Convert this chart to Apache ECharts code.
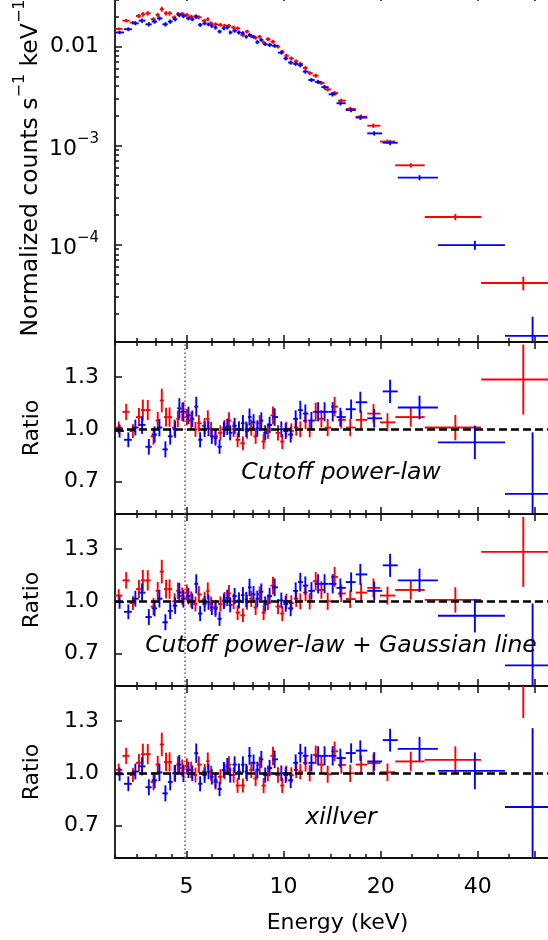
<!DOCTYPE html>
<html><head><meta charset="utf-8">
<script src="https://cdn.jsdelivr.net/npm/echarts@6/dist/echarts.min.js"></script>
<style>html,body{margin:0;padding:0;background:#fff}#c{width:548px;height:940px}</style>
</head><body><div id="c"></div><script>
// ---------------- data ----------------
const redEnergy = [3.08,3.25,3.41,3.56,3.66,3.79,3.95,4.07,4.19,4.32,4.43,4.59,4.70,4.85,5.01,5.17,5.33,5.46,5.69,5.82,5.96,6.15,6.37,6.56,6.77,7.00,7.20,7.48,7.70,7.94,8.19,8.43,8.67,8.94,9.27,9.61,9.91,10.2,10.57,10.95,11.27,11.7,12.05,12.58,13.1,13.7,14.4,15.1,16.1,17.4,19.0,21.0,24.8,34.1,55.4];
const redCounts = [0.0151,0.0183,0.0175,0.0204,0.0212,0.0217,0.0189,0.0209,0.0239,0.0217,0.0217,0.0198,0.0214,0.0214,0.0209,0.0201,0.0201,0.0198,0.0183,0.0189,0.0172,0.0168,0.0166,0.0163,0.0162,0.0156,0.0153,0.0131,0.0142,0.0128,0.0123,0.0126,0.0110,0.0119,0.0112,0.0100,0.0089,0.0081,0.0076,0.0071,0.0067,0.0061,0.0054,0.0051,0.0043,0.0037,0.0034,0.00285,0.00235,0.00196,0.00159,0.00110,0.000633,0.00019,0.000041];
const redRelErr = [0.035,0.042,0.040,0.048,0.054,0.052,0.050,0.048,0.058,0.050,0.052,0.046,0.045,0.048,0.044,0.046,0.043,0.045,0.044,0.046,0.043,0.045,0.044,0.043,0.046,0.044,0.045,0.043,0.044,0.046,0.045,0.044,0.046,0.045,0.047,0.045,0.046,0.044,0.045,0.046,0.045,0.047,0.046,0.048,0.047,0.049,0.050,0.048,0.050,0.050,0.050,0.050,0.052,0.072,0.156];
const redRatioCutoff = [1.01,1.10,0.99,1.07,1.11,1.11,0.96,1.05,1.165,1.07,1.07,1.01,1.06,1.10,1.07,1.05,1.00,1.035,1.02,1.06,1.00,0.96,0.98,1.01,1.05,1.00,0.94,0.92,0.99,1.01,0.96,1.035,0.93,0.99,1.08,0.98,0.93,1.00,0.99,1.01,1.00,1.05,1.00,1.10,1.06,1.01,1.13,1.054,1.01,1.054,1.09,1.04,1.07,1.01,1.285];
const redRatioGauss = [1.033,1.12,0.99,1.07,1.12,1.12,0.97,1.06,1.17,1.07,1.07,1.00,1.06,1.03,1.05,1.01,0.985,1.04,1.01,1.06,0.985,0.965,0.985,1.01,1.045,1.00,0.935,0.92,0.995,1.015,0.965,1.04,0.935,0.995,1.09,0.97,0.93,1.00,0.99,1.015,1.00,1.05,1.00,1.115,1.065,1.00,1.14,1.045,1.013,1.05,1.077,1.033,1.065,1.008,1.283];
const redRatioXillver = [1.02,1.10,0.99,1.06,1.11,1.11,0.95,1.05,1.165,1.065,1.065,1.00,1.05,1.03,1.04,1.02,0.99,1.05,1.01,1.07,1.00,0.95,0.98,1.01,1.05,0.99,0.93,0.93,1.00,1.02,0.97,1.05,0.93,1.00,1.10,0.99,0.93,1.00,0.99,1.02,1.01,1.06,1.00,1.106,1.05,0.995,1.126,1.048,1.00,1.05,1.058,1.006,1.068,1.077,1.56];
const redWideBinLo = [19.9,22.2,27.4,41.0];
const redWideBinHi = [22.2,27.4,41.0,75.0];

const blueEnergy = [3.10,3.30,3.47,3.64,3.82,3.98,4.12,4.30,4.45,4.61,4.75,4.89,5.07,5.21,5.36,5.51,5.69,5.85,5.99,6.15,6.33,6.53,6.69,6.83,7.05,7.27,7.48,7.66,7.84,8.07,8.29,8.53,8.77,9.05,9.38,9.84,10.15,10.52,10.9,11.27,11.68,12.2,12.8,13.4,14.2,15.0,16.2,17.3,19.1,21.4,26.4,39.2,59.2];
const blueCounts = [0.0139,0.0150,0.0172,0.0183,0.0168,0.0179,0.0193,0.0168,0.0179,0.0189,0.0209,0.0204,0.0193,0.0189,0.0201,0.0166,0.0172,0.0168,0.0162,0.0156,0.0142,0.0153,0.0156,0.0139,0.0145,0.0139,0.0137,0.0126,0.0131,0.0126,0.0111,0.0117,0.0106,0.0104,0.0102,0.0087,0.0076,0.0069,0.0067,0.0065,0.0056,0.0046,0.0044,0.0039,0.0033,0.00268,0.00229,0.00192,0.00133,0.00107,0.000475,0.000099,0.000012];
const blueRelErr = [0.038,0.045,0.045,0.050,0.050,0.048,0.050,0.052,0.050,0.048,0.052,0.050,0.046,0.045,0.050,0.046,0.045,0.044,0.045,0.046,0.045,0.044,0.046,0.044,0.045,0.046,0.045,0.044,0.046,0.045,0.046,0.045,0.044,0.046,0.047,0.045,0.046,0.047,0.046,0.048,0.048,0.047,0.050,0.050,0.050,0.050,0.050,0.052,0.050,0.055,0.060,0.104,0.56];
const blueRatioCutoff = [0.99,0.94,1.01,1.025,0.90,0.97,1.01,0.885,0.96,1.00,1.12,1.10,1.08,1.06,1.13,0.94,1.00,1.005,0.96,0.95,0.90,1.00,1.015,0.98,1.02,1.00,1.035,1.00,1.07,1.04,1.005,1.05,0.98,1.025,1.07,1.00,0.99,0.97,1.06,1.11,1.09,1.05,1.10,1.10,1.10,1.07,1.115,1.155,1.063,1.217,1.125,0.925,0.63];
const blueRatioGauss = [0.995,0.94,1.015,1.05,0.91,0.96,1.015,0.88,0.945,0.975,1.05,1.015,1.03,1.00,1.10,0.93,0.985,0.995,0.965,0.955,0.90,1.00,1.02,0.98,1.03,1.005,1.035,1.01,1.08,1.04,1.015,1.055,0.985,1.03,1.08,1.005,0.985,0.96,1.06,1.11,1.09,1.06,1.10,1.10,1.10,1.077,1.11,1.154,1.06,1.206,1.12,0.917,0.633];
const blueRatioXillver = [0.995,0.94,1.01,1.04,0.92,0.96,1.005,0.885,0.95,1.00,1.05,1.00,1.02,1.00,1.115,0.94,0.99,1.01,0.98,0.96,0.91,1.02,1.04,0.99,1.05,1.01,1.05,1.01,1.10,1.06,1.02,1.08,0.99,1.03,1.08,1.00,0.99,0.96,1.06,1.115,1.10,1.06,1.10,1.10,1.10,1.087,1.116,1.13,1.068,1.19,1.14,1.014,0.807];
const blueWideBinLo = [20.3,22.6,30.1,48.6];
const blueWideBinHi = [22.6,30.1,48.6,75.0];

const panelLabels = ['Cutoff power-law', 'Cutoff power-law + Gaussian line', 'xillver'];
const xTickLabels = [5, 10, 20, 40];
const xMajorTicks = [5, 10, 20, 40, 60];
const xMinorTicks = [3, 3.5, 4, 4.5, 6, 7, 8, 9, 12, 14, 16, 18, 25, 30, 35, 50, 70];
const countsMajorTicks = [1e-4, 1e-3, 1e-2];
const countsMinorTicks = [2e-5,3e-5,4e-5,5e-5,6e-5,7e-5,8e-5,9e-5,2e-4,3e-4,4e-4,5e-4,6e-4,7e-4,8e-4,9e-4,2e-3,3e-3,4e-3,5e-3,6e-3,7e-3,8e-3,9e-3,2e-2,3e-2];
const ratioTicks = [0.7, 1.0, 1.3];
const unityRatio = 1.0;
const lineEnergy = 4.93;

// axis ranges
const xMin = 3.0, xMax = 72.0;
const countsMin = 1.04e-5, countsMax = 0.034;
const ratioMin = 0.515, ratioMax = 1.5;

// ---------------- build ----------------
const FONT = '"DejaVu Sans", sans-serif';
const RED = '#ff0000', BLUE = '#0000ff';

function bins(E, wideLo, wideHi) {
  const n = E.length, k = wideLo.length, lo = [], hi = [];
  for (let i = 0; i < n; i++) {
    if (i >= n - k) { lo.push(wideLo[i - (n - k)]); hi.push(wideHi[i - (n - k)]); continue; }
    const prev = i > 0 ? E[i - 1] : E[i] * E[i] / E[i + 1];
    lo.push(Math.sqrt(E[i] * prev));
    hi.push(Math.sqrt(E[i] * E[i + 1]));
  }
  return [lo, hi];
}
const [redLo, redHi] = bins(redEnergy, redWideBinLo, redWideBinHi);
const [blueLo, blueHi] = bins(blueEnergy, blueWideBinLo, blueWideBinHi);

function rows(E, V, lo, hi, rel) {
  return E.map((e, i) => [e, V[i], lo[i], hi[i], V[i] * rel[i]]);
}

function errRender(params, api) {
  const cs = params.coordSys;
  const x0 = cs.x, x1 = cs.x + cs.width, y0 = cs.y, y1 = cs.y + cs.height;
  const e = api.value(0), v = api.value(1), lo = api.value(2), hi = api.value(3), d = api.value(4);
  const c = api.coord([e, v]);
  const cl = api.coord([lo, v]), ch = api.coord([hi, v]);
  const ct = api.coord([e, v + d]), cb = api.coord([e, v - d]);
  const style = { stroke: api.visual('color'), lineWidth: 1.9 };
  const children = [];
  if (c[1] >= y0 && c[1] <= y1) {
    const xa = Math.max(x0, Math.min(cl[0], ch[0])), xb = Math.min(x1, Math.max(cl[0], ch[0]));
    if (xb > xa) children.push({ type: 'line', shape: { x1: xa, y1: c[1], x2: xb, y2: c[1] }, style });
  }
  const ya = Math.max(y0, Math.min(ct[1], cb[1])), yb = Math.min(y1, Math.max(ct[1], cb[1]));
  if (yb > ya && c[0] >= x0 && c[0] <= x1) children.push({ type: 'line', shape: { x1: c[0], y1: ya, x2: c[0], y2: yb }, style });
  return { type: 'group', children };
}

const axisLineStyle = { color: '#111', width: 1.8 };
const tickStyle = { color: '#111', width: 1.5 };
const labelRich = {
  m: { fontSize: 22, fontFamily: FONT, color: '#000', padding: [7, 0, 0, 0], verticalAlign: 'bottom' },
  e: { fontSize: 15, fontFamily: FONT, color: '#000', verticalAlign: 'top' }
};

const panelTops = [-6, 342, 514, 686];
const panelHeights = [348, 172, 172, 172];
const grid = panelTops.map((t, i) => ({ left: 115, right: -12, top: t, height: panelHeights[i], outerBoundsMode: 'none', containLabel: false }));

const xAxis = [];
panelTops.forEach((t, gi) => {
  const base = { type: 'log', logBase: 10, gridIndex: gi, min: xMin, max: xMax, splitLine: { show: false }, minorTick: { show: false }, silent: true };
  const last = gi === 3;
  xAxis.push(Object.assign({}, base, {
    position: 'bottom',
    axisLine: { show: true, onZero: false, lineStyle: axisLineStyle },
    axisTick: { show: true, inside: true, length: 7, lineStyle: tickStyle, customValues: xMajorTicks },
    axisLabel: { show: last, customValues: xTickLabels, margin: 18, fontSize: 22, fontFamily: FONT, color: '#000', formatter: v => String(Math.round(v)) },
    name: last ? 'Energy (keV)' : '', nameLocation: 'middle', nameGap: 54, nameMoveOverlap: false,
    nameTextStyle: { fontSize: 22, fontFamily: FONT, color: '#000' }
  }));
  xAxis.push(Object.assign({}, base, {
    position: 'bottom', axisLine: { show: false, onZero: false },
    axisTick: { show: true, inside: true, length: 4, lineStyle: tickStyle, customValues: xMinorTicks },
    axisLabel: { show: false }
  }));
  xAxis.push(Object.assign({}, base, {
    position: 'top', axisLine: { show: true, onZero: false, lineStyle: axisLineStyle },
    axisTick: { show: true, inside: true, length: 7, lineStyle: tickStyle, customValues: xMajorTicks },
    axisLabel: { show: false }
  }));
  xAxis.push(Object.assign({}, base, {
    position: 'top', axisLine: { show: false, onZero: false },
    axisTick: { show: true, inside: true, length: 4, lineStyle: tickStyle, customValues: xMinorTicks },
    axisLabel: { show: false }
  }));
});

const yAxis = [
  {
    type: 'log', logBase: 10, gridIndex: 0, position: 'left', min: countsMin, max: countsMax,
    splitLine: { show: false },
    axisLine: { show: true, onZero: false, lineStyle: axisLineStyle },
    axisTick: { show: true, inside: true, length: 7, lineStyle: tickStyle, customValues: countsMajorTicks },
    axisLabel: {
      customValues: countsMajorTicks, margin: 16, fontSize: 22, fontFamily: FONT, color: '#000', rich: labelRich,
      formatter: v => Math.abs(v - 0.01) < 1e-7 ? '0.01' : '{m|10}{e|\u2212' + (-Math.round(Math.log10(v))) + '}'
    },
    name: '{a|Normalized counts s}{e|\u22121}{a| keV}{e|\u22121}', nameLocation: 'middle', nameRotate: 90, nameGap: 72, nameMoveOverlap: false,
    nameTextStyle: { fontSize: 23.5, fontFamily: FONT, color: '#000', rich: {
      a: { fontSize: 23.5, fontFamily: FONT, color: '#000', padding: [7, 0, 0, 0], verticalAlign: 'bottom' },
      e: { fontSize: 16, fontFamily: FONT, color: '#000', verticalAlign: 'top' } } }
  },
  {
    type: 'log', logBase: 10, gridIndex: 0, position: 'left', min: countsMin, max: countsMax,
    splitLine: { show: false }, axisLine: { show: false, onZero: false },
    axisTick: { show: true, inside: true, length: 4, lineStyle: tickStyle, customValues: countsMinorTicks },
    axisLabel: { show: false }
  }
];
[1, 2, 3].forEach(gi => {
  yAxis.push({
    type: 'value', gridIndex: gi, position: 'left', min: ratioMin, max: ratioMax,
    splitLine: { show: false },
    axisLine: { show: true, onZero: false, lineStyle: axisLineStyle },
    axisTick: { show: true, inside: true, length: 7, lineStyle: tickStyle, customValues: ratioTicks },
    axisLabel: { customValues: ratioTicks, margin: 16, fontSize: 22, fontFamily: FONT, color: '#000', formatter: v => v.toFixed(1) },
    name: 'Ratio', nameLocation: 'middle', nameRotate: 90, nameGap: 72, nameMoveOverlap: false,
    nameTextStyle: { fontSize: 22, fontFamily: FONT, color: '#000' }
  });
});

function errSeries(name, color, data, gi, yi) {
  return { type: 'custom', name, xAxisIndex: gi * 4, yAxisIndex: yi, renderItem: errRender,
    itemStyle: { color }, encode: { x: 0, y: 1 }, data, silent: true, animation: false, z: 2 };
}

const series = [
  errSeries('FPMA', RED, rows(redEnergy, redCounts, redLo, redHi, redRelErr), 0, 0),
  errSeries('FPMB', BLUE, rows(blueEnergy, blueCounts, blueLo, blueHi, blueRelErr), 0, 0)
];
const redRatios = [redRatioCutoff, redRatioGauss, redRatioXillver];
const blueRatios = [blueRatioCutoff, blueRatioGauss, blueRatioXillver];
[0, 1, 2].forEach(k => {
  const gi = k + 1, yi = k + 2;
  series.push(errSeries('FPMA ratio', RED, rows(redEnergy, redRatios[k], redLo, redHi, redRelErr), gi, yi));
  series.push(errSeries('FPMB ratio', BLUE, rows(blueEnergy, blueRatios[k], blueLo, blueHi, blueRelErr), gi, yi));
  series.push({
    type: 'line', name: 'reference', xAxisIndex: gi * 4, yAxisIndex: yi, data: [], silent: true, z: 5,
    markLine: {
      silent: true, symbol: 'none', animation: false, label: { show: false },
      emphasis: { disabled: true },
      data: [
        { yAxis: unityRatio, lineStyle: { color: '#000', type: [8, 4], width: 2.5 } },
        { xAxis: lineEnergy, lineStyle: { color: '#b03a3a', type: [1.6, 2.4], width: 1.5 } }
      ]
    }
  });
});

const labelY = [473, 645.5, 818];
const graphic = panelLabels.map((t, k) => ({
  type: 'text', x: 341, y: labelY[k], silent: true, z: 10,
  style: { text: t, fontSize: 23.5, fontStyle: 'italic', fontFamily: FONT, fill: '#000', align: 'center', verticalAlign: 'middle' }
}));

const chart = echarts.init(document.getElementById('c'), null, { renderer: 'canvas' });
chart.setOption({
  animation: false,
  backgroundColor: '#fff',
  textStyle: { fontFamily: FONT },
  grid, xAxis, yAxis, series, graphic
});
</script></body></html>
